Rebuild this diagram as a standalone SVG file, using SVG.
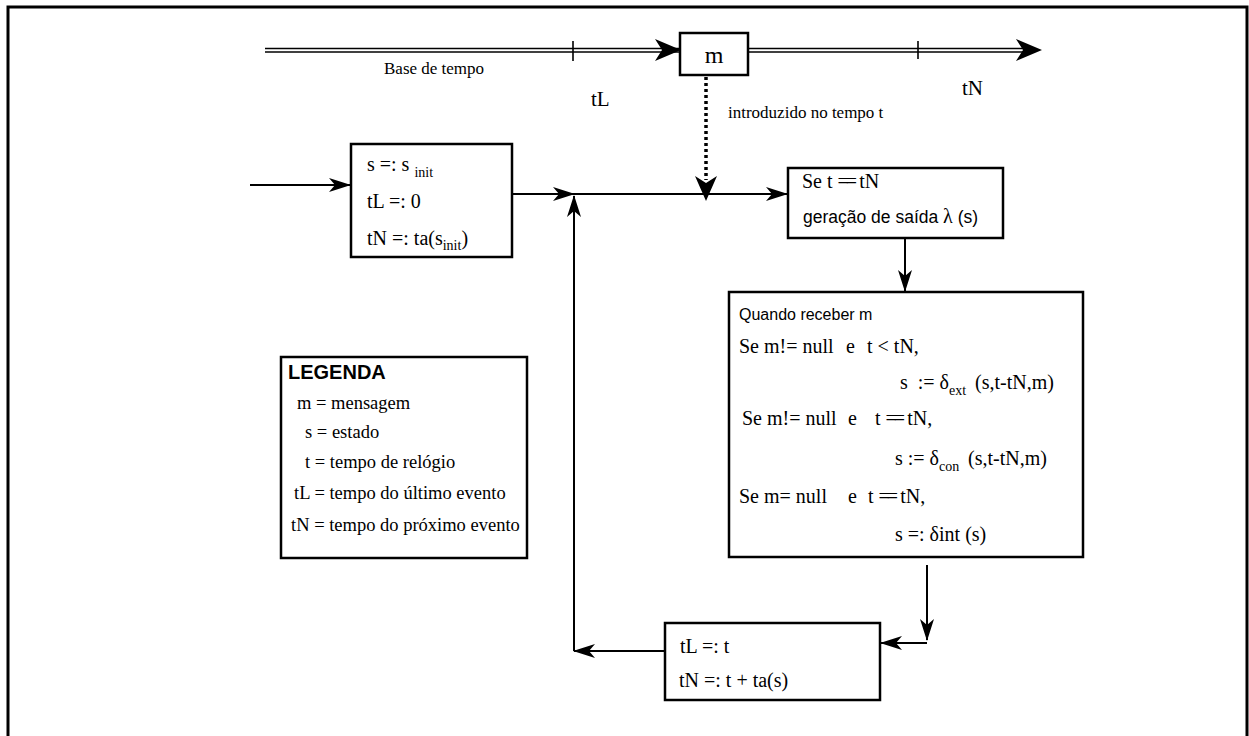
<svg xmlns="http://www.w3.org/2000/svg" width="1249" height="736" viewBox="0 0 1249 736">
  <style>
    .box { fill: #fff; stroke: #000; stroke-width: 2.5; }
    .ln { fill: none; stroke: #000; stroke-width: 2; }
    .dot { fill: none; stroke: #000; stroke-width: 3.5; stroke-dasharray: 3 3; }
    .serif { font-family: "Liberation Serif", "Times New Roman", serif; font-size: 20px; fill: #000; }
    .leg { font-family: "Liberation Serif", "Times New Roman", serif; font-size: 18.5px; fill: #000; }
    .sans { font-family: "Liberation Sans", Arial, sans-serif; font-size: 16px; fill: #000; }
    .sub { font-size: 14px; }
    .eq { letter-spacing: -3px; }
    .axis { font-family: "Liberation Serif", "Times New Roman", serif; fill: #000; }
  </style>
  <defs>
    <marker id="arrow" viewBox="0 0 22 14" refX="21" refY="7" markerWidth="22" markerHeight="14" markerUnits="userSpaceOnUse" orient="auto">
      <path d="M0,0 L22,7 L0,14 L6,7 z" fill="#000"/>
    </marker>
  </defs>

  <rect width="1249" height="736" fill="#fff"/>
  <!-- outer frame -->
  <path d="M8,736 V7 H1247 V736" fill="none" stroke="#000" stroke-width="3"/>

  <!-- time axis -->
  <g id="time-axis">
    <line x1="265" y1="48.5" x2="1030" y2="48.5" stroke="#000" stroke-width="1.3"/>
    <line x1="265" y1="52" x2="1030" y2="52" stroke="#000" stroke-width="1.3"/>
    <path d="M655,39 L681,50 L655,61 L662,50 z" fill="#000"/>
    <path d="M1016,39 L1042,50 L1016,61 L1023,50 z" fill="#000"/>
    <line x1="573" y1="41" x2="573" y2="61" stroke="#000" stroke-width="1.6"/>
    <line x1="918" y1="41" x2="918" y2="59" stroke="#000" stroke-width="1.6"/>
    <text class="axis" x="384" y="74" style="font-size:17px">Base de tempo</text>
    <text class="axis" x="591" y="106" style="font-size:21px">tL</text>
    <text class="axis" x="962" y="95" style="font-size:21px">tN</text>
  </g>

  <g id="msg">
    <rect class="box" x="680" y="33" width="68" height="42"/>
    <text class="axis" x="714" y="63" text-anchor="middle" style="font-size:24px">m</text>
  </g>

  <g id="connectors">
    <!-- message insertion -->
    <line class="dot" x1="706" y1="77" x2="706" y2="180"/>
    <path d="M695,176 L706,201 L717,176 L706,183 z" fill="#000"/>
    <text class="axis" x="728" y="118" style="font-size:17px">introduzido no tempo t</text>
    <!-- input -->
    <line class="ln" x1="250" y1="185" x2="350" y2="185" marker-end="url(#arrow)"/>
    <!-- init to junction, junction to output generation -->
    <line class="ln" x1="512" y1="194" x2="574" y2="194" marker-end="url(#arrow)"/>
    <line class="ln" x1="574" y1="194" x2="787" y2="194" marker-end="url(#arrow)"/>
    <!-- output generation to transitions -->
    <line class="ln" x1="905" y1="238" x2="905" y2="291" marker-end="url(#arrow)"/>
    <!-- transitions to clock update -->
    <line class="ln" x1="927" y1="565" x2="927" y2="640" marker-end="url(#arrow)"/>
    <line class="ln" x1="927" y1="643" x2="881" y2="643" marker-end="url(#arrow)"/>
    <!-- feedback loop -->
    <line class="ln" x1="665" y1="651" x2="574" y2="651" marker-end="url(#arrow)"/>
    <line class="ln" x1="574" y1="651" x2="574" y2="196" marker-end="url(#arrow)"/>
  </g>

  <g id="init">
    <rect class="box" x="351" y="144" width="161" height="113"/>
    <text class="serif" x="367" y="171">s =: s <tspan class="sub" dy="6">init</tspan></text>
    <text class="serif" x="367" y="208">tL =: 0</text>
    <text class="serif" x="367" y="245">tN =: ta(s<tspan class="sub" dy="5">init</tspan><tspan dy="-5">)</tspan></text>
  </g>

  <g id="output">
    <rect class="box" x="788" y="168" width="215" height="70"/>
    <text class="serif" x="802" y="188">Se  t <tspan class="eq">==</tspan> tN</text>
    <text class="sans" x="803" y="223" style="font-size:17.5px">geração de saída <tspan class="serif">λ</tspan> (s)</text>
  </g>

  <g id="transitions">
    <rect class="box" x="729" y="292" width="354" height="265"/>
    <text class="sans" x="739" y="320">Quando receber m</text>
    <text class="serif" x="739" y="353">Se m!= null<tspan x="846">e</tspan><tspan x="867">t &lt; tN,</tspan></text>
    <text class="serif" x="900" y="389" xml:space="preserve">s  := δ<tspan class="sub" dy="6">ext</tspan><tspan dy="-6" x="975">(s,t-tN,m)</tspan></text>
    <text class="serif" x="742" y="425">Se m!= null<tspan x="848">e</tspan><tspan x="875">t <tspan class="eq">==</tspan> tN,</tspan></text>
    <text class="serif" x="895" y="465">s := δ<tspan class="sub" dy="6">con</tspan><tspan dy="-6" x="968">(s,t-tN,m)</tspan></text>
    <text class="serif" x="739" y="503">Se m= null<tspan x="848">e</tspan><tspan x="868">t <tspan class="eq">==</tspan> tN,</tspan></text>
    <text class="serif" x="895" y="541">s =: δint (s)</text>
  </g>

  <g id="update">
    <rect class="box" x="665" y="623" width="215" height="77"/>
    <text class="serif" x="680" y="653">tL =: t</text>
    <text class="serif" x="679" y="687">tN =: t + ta(s)</text>
  </g>

  <g id="legend">
    <rect class="box" x="281" y="357" width="246" height="201"/>
    <text x="288" y="379" style="font-family:'Liberation Sans', Arial, sans-serif; font-weight:bold; font-size:20px">LEGENDA</text>
    <text class="leg" x="297" y="409">m = mensagem</text>
    <text class="leg" x="305" y="438">s = estado</text>
    <text class="leg" x="305" y="468">t = tempo de relógio</text>
    <text class="leg" x="294" y="499">tL = tempo do último evento</text>
    <text class="leg" x="291" y="531">tN = tempo do próximo evento</text>
  </g>
</svg>
